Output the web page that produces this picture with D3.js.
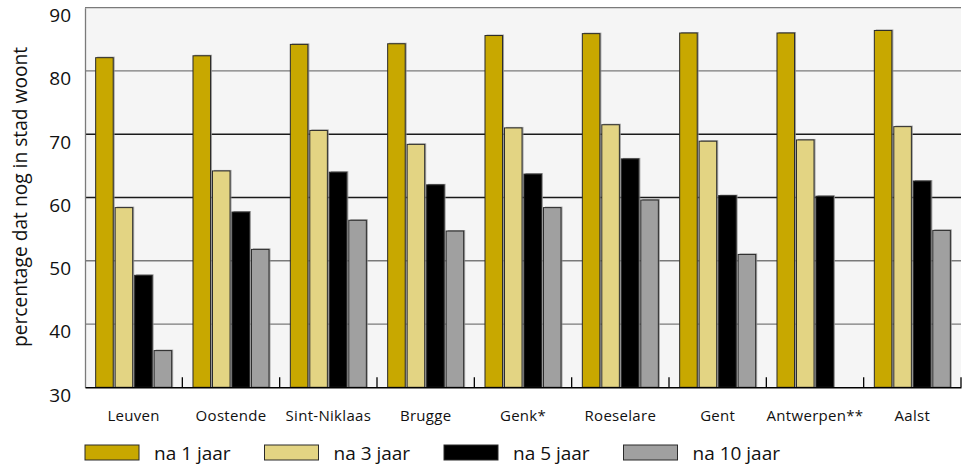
<!DOCTYPE html>
<html><head><meta charset="utf-8">
<script src="https://cdn.jsdelivr.net/npm/d3@7/dist/d3.min.js"></script>
<style>body{margin:0;background:#fff;}svg{display:block;font-family:"Open Sans",sans-serif;}</style>
</head><body>
<svg id="c" width="964" height="466"></svg>
<script>
const categories = ["Leuven","Oostende","Sint-Niklaas","Brugge","Genk*","Roeselare","Gent","Antwerpen**","Aalst"];
const seriesNames = ["na 1 jaar","na 3 jaar","na 5 jaar","na 10 jaar"];
const na1 = [82.1, 82.4, 84.2, 84.3, 85.6, 85.9, 86.0, 86.0, 86.4];
const na3 = [58.4, 64.2, 70.6, 68.4, 71.0, 71.5, 68.9, 69.1, 71.2];
const na5 = [47.7, 57.7, 64.0, 62.0, 63.7, 66.1, 60.3, 60.2, 62.6];
const na10 = [35.8, 51.8, 56.4, 54.7, 58.4, 59.6, 51.0, null, 54.8];
const yTicks = [30, 40, 50, 60, 70, 80, 90];
const colors = ["#c8a800", "#e3d483", "#000000", "#a0a0a0"];
const series = [na1, na3, na5, na10];

const svg = d3.select("#c");
const L = 85, R = 961, T = 7.7, B = 387.3;

const x0 = d3.scaleBand().domain(categories).range([L, R]).paddingInner(0.219).paddingOuter(0.1095);
const x1 = d3.scaleBand().domain(d3.range(4)).range([0, x0.bandwidth()]).paddingInner(0.1).paddingOuter(0);
const y = d3.scaleLinear().domain([30, 90]).range([B, T]);

// plot background
svg.append("rect").attr("x", L).attr("y", T).attr("width", R - L).attr("height", B - T).attr("fill", "#f5f5f5");

// gridlines
const gridColor = v => (v === 60 || v === 70) ? "#1a1a1a" : "#7a7a7a";
svg.append("g").selectAll("line").data(yTicks.filter(v => v > 30)).join("line")
  .attr("x1", L).attr("x2", R).attr("y1", d => y(d)).attr("y2", d => y(d))
  .attr("stroke", gridColor).attr("stroke-width", 1.3);

// y axis (labels hang below their gridline)
const yAxis = svg.append("g").attr("transform", `translate(${L},0)`)
  .call(d3.axisLeft(y).tickValues(yTicks).tickSize(0).tickPadding(14));
yAxis.select(".domain").attr("stroke", "#7a7a7a").attr("stroke-width", 1.3);
yAxis.selectAll("text").attr("font-size", 19).attr("fill", "#111").attr("font-family", "Open Sans")
  .attr("dy", 13.8);

// bars
const groups = svg.append("g").selectAll("g").data(categories).join("g")
  .attr("transform", d => `translate(${x0(d)},0)`);
groups.each(function(cat, ci) {
  const g = d3.select(this);
  const vals = series.map((s, si) => ({si, v: s[ci]})).filter(d => d.v != null);
  g.selectAll("rect.sh").data(vals).join("rect").attr("class", "sh")
    .attr("x", d => x1(d.si) + 1.5).attr("y", d => y(d.v) - 1)
    .attr("width", x1.bandwidth()).attr("height", d => B - y(d.v) + 1)
    .attr("fill", "#8c8c8c").attr("opacity", 0.8);
  g.selectAll("rect.bar").data(vals).join("rect").attr("class", "bar")
    .attr("x", d => x1(d.si)).attr("y", d => y(d.v))
    .attr("width", x1.bandwidth()).attr("height", d => B - y(d.v))
    .attr("fill", d => colors[d.si]).attr("stroke", "#2a2a2a").attr("stroke-width", 1);
});

// x axis
const xAxis = svg.append("g").attr("transform", `translate(0,${B})`)
  .call(d3.axisBottom(x0).tickSize(0).tickPadding(0));
xAxis.select(".domain").attr("stroke", "#000").attr("stroke-width", 1.5);
xAxis.selectAll("text").attr("font-size", 15).attr("fill", "#111").attr("font-family", "Open Sans")
  .attr("letter-spacing", "0.3px").attr("dy", 33.7);
// group boundary ticks
const bounds = categories.slice(1).map(c => x0(c) - x0.step() * x0.paddingInner() / 2);
bounds.push(R);
svg.append("g").selectAll("line").data(bounds).join("line")
  .attr("x1", d => d).attr("x2", d => d).attr("y1", B).attr("y2", B - 10)
  .attr("stroke", "#000").attr("stroke-width", 1.3);

// y label
svg.append("text").attr("transform", `translate(26.5,197) rotate(-90)`)
  .attr("text-anchor", "middle").attr("font-size", 19.2).attr("fill", "#111")
  .text("percentage dat nog in stad woont");

// legend
const leg = svg.append("g").selectAll("g").data(seriesNames).join("g")
  .attr("transform", (d, i) => `translate(${85 + i * 179.5},445)`);
leg.append("rect").attr("width", 54).attr("height", 15)
  .attr("fill", (d, i) => colors[i]).attr("stroke", "#2a2a2a").attr("stroke-width", 1);
leg.append("text").attr("x", 69).attr("y", 7.5).attr("dominant-baseline", "central")
  .attr("font-size", 19).attr("fill", "#111")
  .attr("font-weight", (d, i) => i === 1 ? 500 : 400)
  .text(d => d);
</script>
</body></html>
